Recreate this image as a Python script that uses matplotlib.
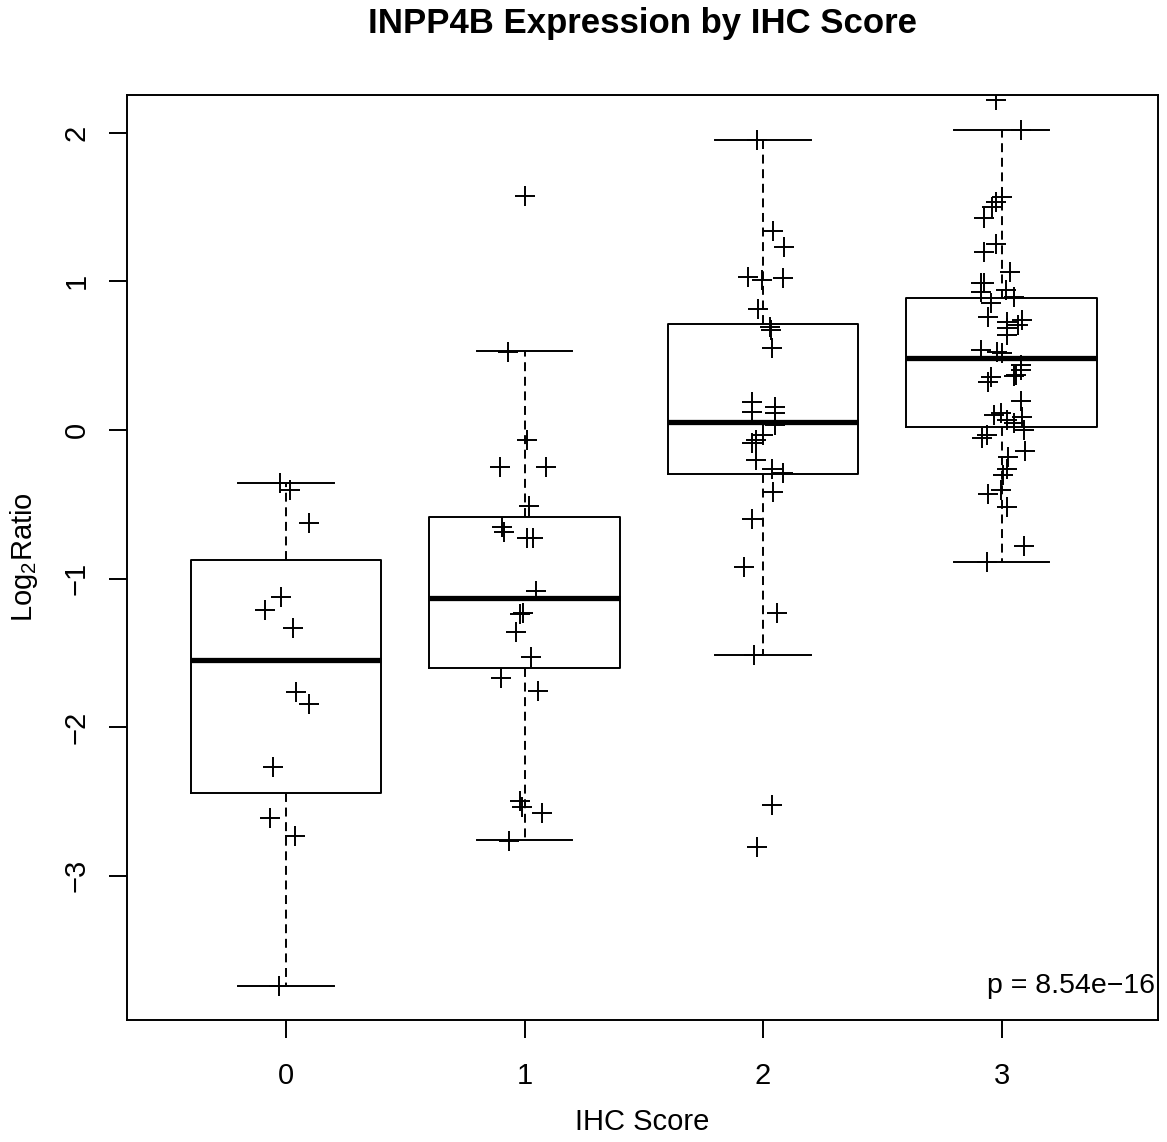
import matplotlib
matplotlib.use("Agg")
import matplotlib.pyplot as plt

plt.rcParams['font.family'] = ['Liberation Sans', 'DejaVu Sans']
plt.rcParams['mathtext.fontset'] = 'custom'
plt.rcParams['mathtext.rm'] = 'Liberation Sans'

# IHC score groups
scores = [0, 1, 2, 3]

# box statistics per score (lower whisker, Q1, median, Q3, upper whisker)
whisker_lo = [-3.74, -2.76, -1.515, -0.89]
q1 = [-2.44, -1.605, -0.30, 0.018]
medians = [-1.55, -1.13, 0.052, 0.482]
q3 = [-0.873, -0.585, 0.71, 0.886]
whisker_hi = [-0.36, 0.531, 1.95, 2.02]

# log2 ratios per sample, with the horizontal jitter used when plotting
log2_s0 = [-0.36, -0.405, -0.625, -1.126, -1.212, -1.332, -1.763, -1.846,
           -2.269, -2.61, -2.73, -3.742]
jit_s0 = [-0.026, 0.018, 0.097, -0.023, -0.087, 0.030, 0.041, 0.097,
          -0.055, -0.069, 0.037, -0.031]

log2_s1 = [1.574, 0.525, -0.069, -0.248, -0.248, -0.51, -0.655, -0.69,
           -0.726, -0.726, -1.087, -1.241, -1.235, -1.359, -1.529, -1.668,
           -1.754, -2.495, -2.539, -2.578, -2.764]
jit_s1 = [0.001, -0.068, 0.010, -0.103, 0.090, 0.019, -0.095, -0.088,
          0.011, 0.036, 0.046, -0.019, -0.007, -0.037, 0.027, -0.100,
          0.056, -0.021, -0.011, 0.073, -0.065]

log2_s2 = [1.95, 1.338, 1.233, 1.031, 1.009, 1.02, 0.812, 0.695, 0.67,
           0.549, 0.19, 0.157, 0.117, 0.112, 0.034, -0.034, -0.067, -0.09,
           -0.20, -0.265, -0.291, -0.421, -0.60, -0.923, -1.233, -1.515,
           -2.524, -2.806]
jit_s2 = [-0.027, 0.041, 0.088, -0.065, -0.005, 0.083, -0.020, 0.028, 0.035,
          0.037, -0.047, 0.049, -0.047, 0.052, 0.049, -0.002, -0.030, -0.047,
          -0.030, 0.038, 0.085, 0.041, -0.047, -0.080, 0.059, -0.040,
          0.038, -0.024]

log2_s3 = [2.219, 2.017, 1.569, 1.535, 1.502, 1.424, 1.251, 1.199, 1.065,
           0.986, 0.986, 0.941, 0.93, 0.892, 0.852, 0.762, 0.728, 0.74, 0.706,
           0.684, 0.639, 0.538, 0.527, 0.516, 0.437, 0.404, 0.363, 0.358,
           0.325, 0.37, 0.197, 0.101, 0.112, 0.067, 0.045, 0.085, 0.0, -0.034,
           -0.056, -0.141, -0.184, -0.265, -0.303, -0.43, -0.403, -0.52,
           -0.78, -0.892]
jit_s3 = [-0.022, 0.080, 0.000, -0.022, -0.042, -0.074, -0.022, -0.074, 0.035,
          -0.088, -0.074, 0.017, -0.088, 0.052, -0.046, -0.055, 0.021, 0.087,
          0.070, 0.021, 0.021, -0.088, -0.018, 0.003, 0.080, 0.080, 0.052,
          -0.046, -0.055, 0.060, 0.080, -0.032, -0.004, 0.024, 0.052, 0.087,
          0.094, -0.060, -0.080, 0.100, 0.026, 0.024, 0.007, -0.055, -0.004,
          0.024, 0.096, -0.063]

log2_values = [log2_s0, log2_s1, log2_s2, log2_s3]
jitters = [jit_s0, jit_s1, jit_s2, jit_s3]

p_text = "p = 8.54e\u221216"

fig = plt.figure(figsize=(11.67, 11.42), dpi=100)
ax = fig.add_axes([127 / 1167, 1 - 1020 / 1142, 1031 / 1167, 925 / 1142])

stats = []
for i in range(len(scores)):
    stats.append(dict(whislo=whisker_lo[i], q1=q1[i], med=medians[i],
                      q3=q3[i], whishi=whisker_hi[i], fliers=[]))

ax.bxp(stats, positions=scores, widths=0.8, capwidths=0.4, showfliers=False,
       boxprops=dict(color='black', linewidth=1.4),
       whiskerprops=dict(color='black', linewidth=1.4, linestyle=(0, (4.6, 2.9))),
       capprops=dict(color='black', linewidth=1.4),
       medianprops=dict(color='black', linewidth=3.8, solid_capstyle='butt'))

# jittered samples on top of the boxes
for s, vals, jit in zip(scores, log2_values, jitters):
    xs = [s + j for j in jit]
    ax.plot(xs, vals, linestyle='none', marker='+', markersize=14.5,
            markeredgewidth=1.4, color='black', zorder=5)

ax.set_xlim(-0.667, 3.656)
ax.set_ylim(-3.97, 2.253)
ax.set_xticks(scores)
ax.set_xticklabels([str(s) for s in scores])
ax.set_yticks([-3, -2, -1, 0, 1, 2])
ax.set_yticklabels(['\u22123', '\u22122', '\u22121', '0', '1', '2'],
                   rotation=90, va='center')

for sp in ax.spines.values():
    sp.set_linewidth(1.4)
ax.tick_params(axis='both', length=13, width=1.4, labelsize=21)
ax.tick_params(axis='x', pad=17)
ax.tick_params(axis='y', pad=13)

ax.set_xlabel('IHC Score', fontsize=21)
ax.xaxis.label.set_va('center')
ax.xaxis.set_label_coords(0.5, (1020 - 1122) / 925)
ax.set_ylabel(r'Log$_\mathrm{2}$Ratio', fontsize=21)
ax.yaxis.label.set_va('center')
ax.yaxis.set_label_coords((24 - 127) / 1031, 0.5)

ax.text(0.997, (1020 - 993) / 925, p_text, transform=ax.transAxes,
        ha='right', va='baseline', fontsize=20.5)

fig.text(642.5 / 1167, 1 - 23 / 1142, 'INPP4B Expression by IHC Score',
         ha='center', va='center', fontsize=25, fontweight='bold')

fig.savefig('out.png', dpi=100)
